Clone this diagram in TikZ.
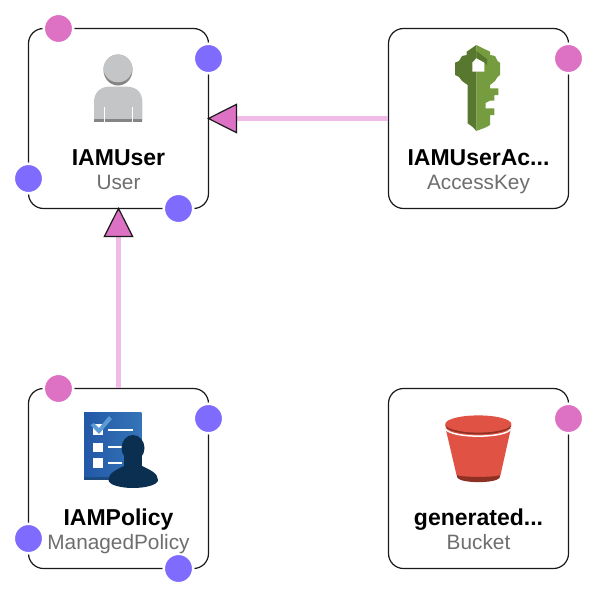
\documentclass[tikz,border=0pt]{standalone}
\usepackage{fontspec}
\setmainfont{Liberation Sans}
\newfontfamily\titlefont{Liberation Sans}
\usetikzlibrary{arrows.meta}
\definecolor{pinkport}{HTML}{DD71C4}
\definecolor{blueport}{HTML}{7F6CFF}
\definecolor{linkpink}{HTML}{F0BBE6}
\definecolor{subgray}{HTML}{6E6E6E}
\definecolor{boxline}{HTML}{1A1A1A}
\definecolor{userlight}{HTML}{C4C5C7}
\definecolor{userdark}{HTML}{858585}
\definecolor{keylight}{HTML}{759C3E}
\definecolor{keydark}{HTML}{58772F}
\definecolor{boardblue}{HTML}{2358A6}
\definecolor{boardblueb}{HTML}{3474B8}
\definecolor{boardedge}{HTML}{1D4A7F}
\definecolor{checkblue}{HTML}{5A9BD5}
\definecolor{persondark}{HTML}{0B2F50}
\definecolor{bucketred}{HTML}{E05243}
\definecolor{bucketdark}{HTML}{8C3123}
\tikzset{
  card/.style={draw=boxline,line width=1.2pt,rounded corners=15pt,fill=white,minimum size=180pt,inner sep=0pt},
  title/.style={anchor=base,inner sep=0pt,font=\titlefont\fontsize{23}{23}\selectfont\bfseries,text=black},
  kind/.style={anchor=base,inner sep=0pt,font=\fontsize{20.8}{20.8}\selectfont,text=subgray},
  port/.style={circle,draw=white,line width=2.5pt,inner sep=0pt,minimum size=29.5pt},
  pinkdot/.style={port,fill=pinkport},
  bluedot/.style={port,fill=blueport},
  link/.style={draw=linkpink,line width=5.5pt,shorten >=-2pt,-{Triangle[length=30pt,width=30pt,line width=1.2pt,color=boxline,fill=pinkport]}}
}
\begin{document}
\begin{tikzpicture}[x=1pt,y=-1pt]
\useasboundingbox (0,0) rectangle (597,597);
\fill[white] (0,0) rectangle (597,597);
% cards
\node[card] (user) at (118.5,118.5) {};
\node[card] (key) at (478.5,118.5) {};
\node[card] (policy) at (118.5,478.5) {};
\node[card] (bucket) at (478.5,478.5) {};
% connectors
\draw[link] (key.west) -- (user.east);
\draw[link] (policy.north) -- (user.south);
% user icon
\fill[userlight] (94,121.7) -- (94,102) .. controls (94,92) and (101,86.7) .. (109,86.7) -- (127,86.7) .. controls (136,86.7) and (142.3,92) .. (142.3,102) -- (142.3,121.7) -- cycle;
\fill[userdark] (94,119.3) rectangle (142.3,121.7);
\fill[white] (104.3,107) rectangle (105.1,121.7);
\fill[white] (131.6,107) rectangle (132.4,121.7);
\fill[userdark] (118,70) ellipse [x radius=14.5,y radius=15.5];
\fill[userlight] (118,68.5) ellipse [x radius=14.5,y radius=13.8];
% key icon
\fill[keylight] (476.3,45) -- (490,51.7) -- (490,55) -- (495,56) -- (497.5,61) -- (500,62.7) -- (500,75) -- (497.5,77) -- (495,81) -- (490,85) -- (490,88.3) -- (498.3,88.3) -- (498.3,95) -- (494.3,95) -- (494.3,100.7) -- (490,100.7) -- (485.5,103) -- (485.5,108.3) -- (494.3,108.3) -- (494.3,115) -- (490,115) -- (490,125) -- (486,127.3) -- (476.3,131) -- cycle;
\fill[keydark] (476.3,45) -- (466.7,51.7) -- (466.7,55) -- (462,56) -- (459,61) -- (455,62.7) -- (455,75) -- (459,77) -- (462,81) -- (467.7,85) -- (467.7,123.3) -- (473,127.3) -- (476.3,131) -- cycle;
\fill[keydark] (476.3,51) -- (487,59) -- (487,65) -- (484.3,62.7) -- (476.3,58.3) -- cycle;
\fill[white] (476.3,58.3) -- (484.3,62.7) -- (484.3,71.7) -- (472.3,71.7) -- (472.3,62.7) -- cycle;
% policy icon
\shade[left color=boardblue,right color=boardblueb] (84,412.3) rectangle (141.3,477);
\fill[boardedge] (84,477) rectangle (141.3,479.5);
\fill[white] (92.7,424) rectangle (103,435);
\fill[checkblue] (90.5,425) -- (94,423) -- (99,428) -- (109,416) -- (112,419) -- (99,434) -- cycle;
\fill[white] (107.5,429) rectangle (133,431);
\fill[white] (92.7,442.5) rectangle (103,451.5);
\fill[white] (107.5,445.5) rectangle (122,447.5);
\fill[white] (92.7,457.5) rectangle (103,467.5);
\fill[white] (107.5,461.5) rectangle (122,463.5);
\fill[persondark] (133,448) ellipse [x radius=11.5,y radius=13];
\fill[persondark] (124,456) rectangle (142,470);
\fill[persondark] (108.5,480) .. controls (108.5,473) and (116,470) .. (124,466) -- (142,466) .. controls (150,470) and (158,473) .. (158,480) .. controls (158,485) and (145,488) .. (133,488) .. controls (121,488) and (108.5,485) .. (108.5,480) -- cycle;
% bucket icon
\fill[bucketred] (445.5,428) -- (456.5,475) .. controls (460,480) and (497,480) .. (500.5,475) -- (511,428) -- cycle;
\fill[bucketdark] (456.7,475) .. controls (460,477.5) and (497,477.5) .. (500.3,475) -- (499.5,478) .. controls (495,483.5) and (462,483.5) .. (457.5,478) -- cycle;
\draw[white,line width=1.5pt] (445.5,429) .. controls (452,438.5) and (505,438.5) .. (511,429);
\fill[bucketdark] (478.3,425.5) ellipse [x radius=33,y radius=8.8];
\fill[bucketred] (478.3,424) ellipse [x radius=33,y radius=8.6];
% ports
\node[pinkdot] (userp) at (58.5,28.5) {};
\node[bluedot] (userb1) at (208.5,58.5) {};
\node[bluedot] (userb2) at (28.5,178.5) {};
\node[bluedot] (userb3) at (178.5,208.5) {};
\node[pinkdot] (keyp) at (568.5,58.5) {};
\node[pinkdot] (policyp) at (58.5,388.5) {};
\node[bluedot] (policyb1) at (208.5,418.5) {};
\node[bluedot] (policyb2) at (28.5,538.5) {};
\node[bluedot] (policyb3) at (178.5,568.5) {};
\node[pinkdot] (bucketp) at (568.5,418.5) {};
% labels
\node[title] (usert) at (118.5,165) {IAMUser};
\node[kind] (users) at (118.5,189) {User};
\node[title] (keyt) at (478.5,165) {IAMUserAc...};
\node[kind] (keys) at (478.5,189) {AccessKey};
\node[title] (policyt) at (118.5,525) {IAMPolicy};
\node[kind] (policys) at (118.5,549) {ManagedPolicy};
\node[title] (buckett) at (478.5,525) {generated...};
\node[kind] (buckets) at (478.5,549) {Bucket};
\end{tikzpicture}
\end{document}
